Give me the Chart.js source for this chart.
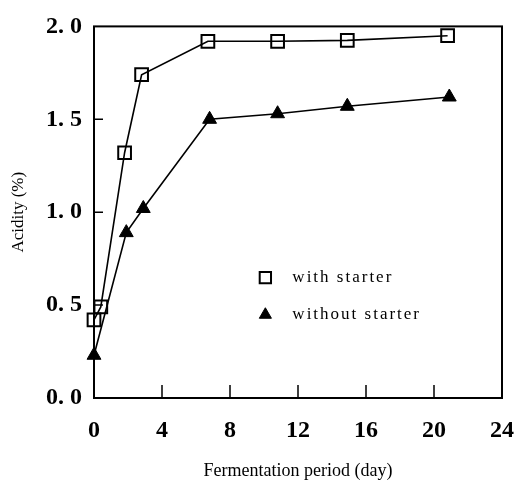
<!DOCTYPE html>
<html>
<head>
<meta charset="utf-8">
<script src="https://cdn.jsdelivr.net/npm/chart.js@4.4.1/dist/chart.umd.min.js"></script>
<style>
  html, body { margin: 0; padding: 0; background: #fff; }
  #wrap { width: 517px; height: 488px; }
</style>
</head>
<body>
<div id="wrap"><canvas id="grafico" width="517" height="488"></canvas></div>
<script>
// ── Datos ─────────────────────────────────────────────────
const diasCon = [0, 0.4, 1.8, 2.8, 6.7, 10.8, 14.9, 20.8];
const acidezCon = [0.42, 0.49, 1.32, 1.74, 1.92, 1.92, 1.925, 1.95];
const diasSin = [0, 1.9, 2.9, 6.8, 10.8, 14.9, 20.9];
const acidezSin = [0.23, 0.89, 1.02, 1.50, 1.53, 1.57, 1.62];
const ticksX = [0, 4, 8, 12, 16, 20, 24];
const ticksY = [0, 0.5, 1.0, 1.5, 2.0];
const etiquetas = ['with starter', 'without starter'];

const serif = "'Liberation Serif', 'Times New Roman', serif";

// marco completo + marcas hacia dentro
const marcoPlugin = {
    id: 'marco',
    beforeDatasetsDraw(chart) {
        const { ctx, chartArea: a, scales } = chart;
        ctx.save();
        ctx.strokeStyle = '#000';
        ctx.lineWidth = 2;
        ctx.strokeRect(a.left, a.top, a.right - a.left, a.bottom - a.top);
        ctx.lineWidth = 1.5;
        ctx.beginPath();
        ticksX.slice(1, -1).forEach(v => {
            const x = scales.x.getPixelForValue(v);
            ctx.moveTo(x, a.bottom);
            ctx.lineTo(x, a.bottom - 13);
        });
        ticksY.slice(1, -1).forEach(v => {
            const y = scales.y.getPixelForValue(v);
            ctx.moveTo(a.left, y);
            ctx.lineTo(a.left + 9, y);
        });
        ctx.stroke();
        ctx.restore();
    }
};

// leyenda dentro del área del gráfico
const leyendaPlugin = {
    id: 'leyendaInterna',
    afterDraw(chart) {
        const { ctx, chartArea: a } = chart;
        const w = a.right - a.left, h = a.bottom - a.top;
        const filas = [0.676, 0.776];
        ctx.save();
        chart.data.datasets.forEach((ds, i) => {
            const x = a.left + 0.42 * w;
            const y = a.top + filas[i] * h;
            ctx.strokeStyle = '#000';
            ctx.fillStyle = ds.pointBackgroundColor;
            ctx.lineWidth = ds.pointBorderWidth;
            Chart.helpers.drawPoint(ctx, {
                pointStyle: ds.pointStyle,
                radius: ds.pointRadius - 1,
                borderWidth: ds.pointBorderWidth,
                rotation: 0
            }, x, y);
            ctx.fillStyle = '#000';
            ctx.font = '17px ' + serif;
            ctx.letterSpacing = '2px';
            ctx.textBaseline = 'middle';
            ctx.fillText(ds.label, x + 27, y);
        });
        ctx.restore();
    }
};

new Chart(document.getElementById('grafico'), {
    type: 'line',
    data: {
        datasets: [
            {
                label: etiquetas[0],
                data: diasCon.map((d, i) => ({ x: d, y: acidezCon[i] })),
                borderColor: '#000',
                borderWidth: 1.6,
                pointStyle: 'rect',
                pointRadius: 9,
                pointBorderWidth: 2,
                pointBackgroundColor: 'rgba(255,255,255,0)',
                pointBorderColor: '#000',
                tension: 0,
                clip: false
            },
            {
                label: etiquetas[1],
                data: diasSin.map((d, i) => ({ x: d, y: acidezSin[i] })),
                borderColor: '#000',
                borderWidth: 1.6,
                pointStyle: 'triangle',
                pointRadius: 8,
                pointBorderWidth: 1,
                pointBackgroundColor: '#000',
                pointBorderColor: '#000',
                tension: 0,
                clip: false
            }
        ]
    },
    options: {
        responsive: false,
        animation: false,
        layout: { padding: { top: 18, right: 0, left: 0, bottom: 0 } },
        plugins: { legend: { display: false }, tooltip: { enabled: false } },
        scales: {
            x: {
                type: 'linear',
                min: 0, max: 24,
                afterBuildTicks: s => { s.ticks = ticksX.map(v => ({ value: v })); },
                afterFit: s => { s.height = 90; s.paddingRight = 15; s.paddingLeft = 0; },
                grid: { display: false, drawTicks: false },
                border: { display: false },
                ticks: {
                    padding: 18,
                    color: '#000',
                    font: { family: serif, size: 24, weight: 'bold' },
                    maxRotation: 0
                },
                title: {
                    display: true,
                    text: 'Fermentation period (day)',
                    color: '#000',
                    font: { family: serif, size: 18 },
                    padding: { top: 0, bottom: 6 }
                }
            },
            y: {
                type: 'linear',
                min: 0, max: 2,
                afterBuildTicks: s => { s.ticks = ticksY.map(v => ({ value: v })); },
                afterFit: s => { s.width = 94; },
                grid: { display: false, drawTicks: false },
                border: { display: false },
                ticks: {
                    padding: 12,
                    color: '#000',
                    font: { family: serif, size: 24, weight: 'bold' },
                    callback: v => v.toFixed(1).replace('.', '. ')
                },
                title: {
                    display: true,
                    text: 'Acidity (%)',
                    color: '#000',
                    font: { family: serif, size: 17 },
                    padding: { top: 8, bottom: 0 }
                }
            }
        }
    },
    plugins: [marcoPlugin, leyendaPlugin]
});
</script>
</body>
</html>
